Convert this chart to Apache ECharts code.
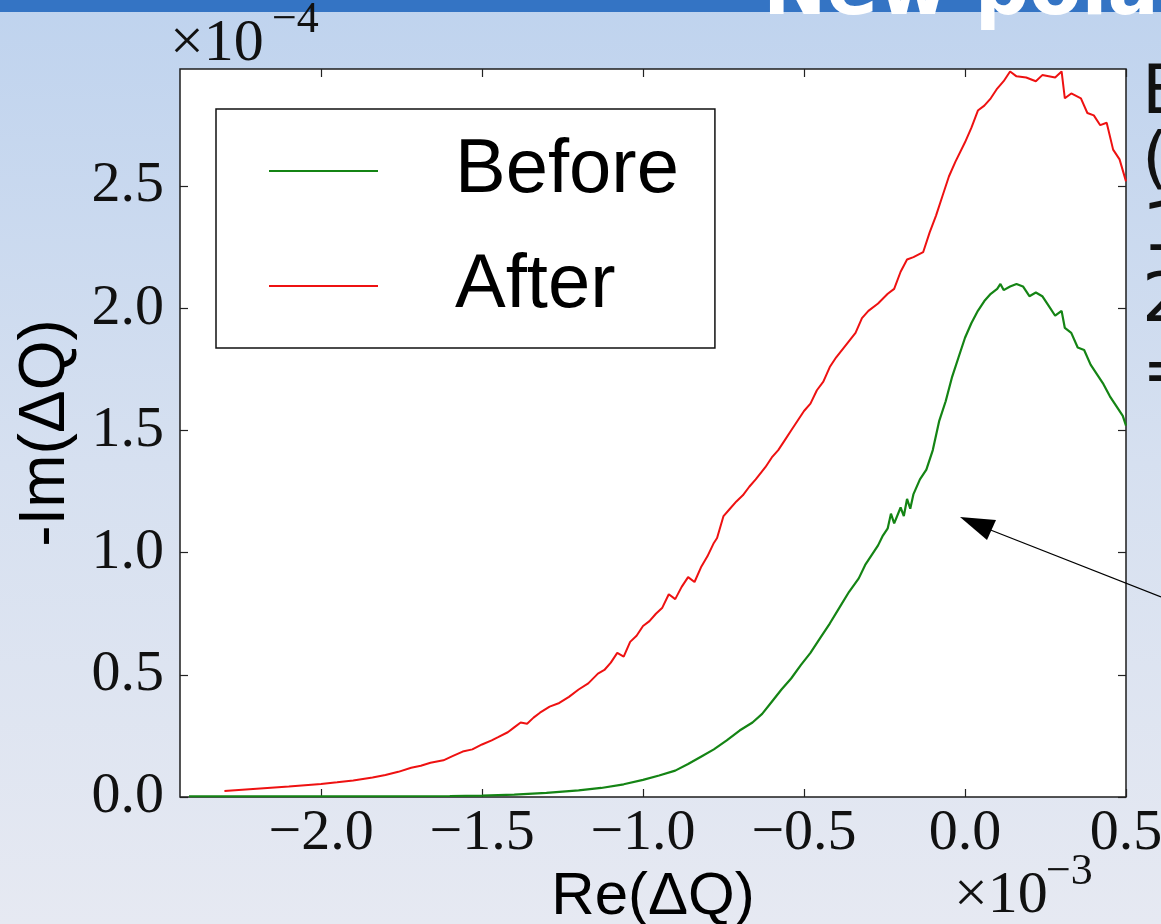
<!DOCTYPE html>
<html>
<head>
<meta charset="utf-8">
<script src="https://cdn.jsdelivr.net/npm/echarts@6.0.0/dist/echarts.min.js"></script>
<style>
html,body{margin:0;padding:0;width:1161px;height:924px;overflow:hidden;}
#chart{width:1161px;height:924px;}
</style>
</head>
<body>
<div id="chart"></div>
<script>
// Re(ΔQ) in units of 1e-3, -Im(ΔQ) in units of 1e-4
const beforeRe = [-2.41,-2.2,-2.0,-1.8,-1.6,-1.5,-1.4,-1.3,-1.2,-1.13,-1.06,-1.0,-0.95,-0.9,-0.86,-0.82,-0.78,-0.74,-0.7,-0.66,-0.63,-0.6,-0.57,-0.54,-0.51,-0.48,-0.45,-0.42,-0.39,-0.36,-0.33,-0.31,-0.29,-0.27,-0.255,-0.24,-0.23,-0.22,-0.2,-0.19,-0.18,-0.17,-0.16,-0.14,-0.12,-0.1,-0.08,-0.06,-0.04,-0.02,0.0,0.02,0.04,0.06,0.08,0.1,0.11,0.12,0.14,0.16,0.18,0.2,0.22,0.24,0.26,0.28,0.3,0.31,0.33,0.35,0.37,0.39,0.41,0.43,0.45,0.47,0.49,0.5];
const beforeIm = [0.003,0.003,0.003,0.003,0.004,0.006,0.010,0.017,0.027,0.037,0.052,0.070,0.088,0.108,0.135,0.165,0.195,0.232,0.272,0.305,0.340,0.390,0.440,0.485,0.540,0.590,0.650,0.710,0.775,0.840,0.895,0.950,0.990,1.030,1.070,1.100,1.160,1.120,1.185,1.150,1.220,1.180,1.240,1.300,1.340,1.420,1.540,1.620,1.720,1.800,1.880,1.940,1.990,2.030,2.060,2.080,2.100,2.075,2.090,2.100,2.090,2.050,2.065,2.050,2.010,1.970,1.990,1.920,1.900,1.840,1.830,1.770,1.730,1.690,1.640,1.600,1.560,1.520];
const afterRe = [-2.30,-2.2,-2.1,-2.0,-1.95,-1.9,-1.84,-1.8,-1.76,-1.72,-1.69,-1.66,-1.62,-1.59,-1.56,-1.53,-1.5,-1.47,-1.45,-1.42,-1.4,-1.38,-1.36,-1.34,-1.32,-1.29,-1.26,-1.23,-1.2,-1.17,-1.14,-1.12,-1.1,-1.08,-1.06,-1.04,-1.02,-1.0,-0.98,-0.96,-0.94,-0.92,-0.9,-0.88,-0.86,-0.84,-0.82,-0.8,-0.78,-0.77,-0.75,-0.73,-0.71,-0.69,-0.67,-0.65,-0.62,-0.6,-0.58,-0.56,-0.54,-0.52,-0.5,-0.48,-0.46,-0.44,-0.42,-0.4,-0.37,-0.34,-0.32,-0.3,-0.27,-0.24,-0.22,-0.2,-0.18,-0.16,-0.13,-0.11,-0.09,-0.07,-0.05,-0.03,0.0,0.02,0.04,0.06,0.08,0.1,0.12,0.14,0.16,0.19,0.22,0.24,0.26,0.28,0.3,0.31,0.33,0.36,0.38,0.4,0.42,0.44,0.46,0.48,0.5];
const afterIm = [0.025,0.034,0.043,0.053,0.060,0.068,0.080,0.090,0.103,0.120,0.128,0.140,0.150,0.168,0.186,0.195,0.215,0.232,0.245,0.265,0.285,0.305,0.300,0.325,0.345,0.370,0.385,0.410,0.440,0.465,0.505,0.520,0.550,0.590,0.575,0.635,0.660,0.700,0.720,0.750,0.775,0.830,0.810,0.860,0.900,0.880,0.940,0.985,1.040,1.060,1.150,1.180,1.210,1.235,1.270,1.300,1.350,1.390,1.420,1.460,1.500,1.540,1.580,1.610,1.665,1.700,1.760,1.800,1.850,1.900,1.960,1.990,2.020,2.060,2.080,2.150,2.200,2.210,2.230,2.310,2.380,2.460,2.540,2.600,2.680,2.740,2.810,2.830,2.860,2.900,2.930,2.970,2.950,2.945,2.930,2.955,2.950,2.945,2.970,2.860,2.880,2.860,2.800,2.790,2.750,2.760,2.650,2.610,2.520];
const seriesNames = ['Before', 'After'];
const xTicks = [-2.0, -1.5, -1.0, -0.5, 0.0, 0.5];
const yTicks = [0.0, 0.5, 1.0, 1.5, 2.0, 2.5];
const xRange = [-2.438, 0.5];
const yRange = [0, 2.98];

const zip = (a, b) => a.map((v, i) => [v, b[i]]);
const fmt = v => (v < 0 ? '\u2212' : '') + Math.abs(v).toFixed(1);

const chart = echarts.init(document.getElementById('chart'), null, {renderer: 'canvas'});
const serif = 'Liberation Serif';
const sans = 'Liberation Sans';

const tickCommon = {inside: true, length: 8, lineStyle: {color: '#222', width: 1.2}};
const noLine = {show: false, onZero: false};

chart.setOption({
  animation: false,
  backgroundColor: new echarts.graphic.LinearGradient(0, 0, 0, 1, [
    {offset: 0, color: '#bfd3ee'},
    {offset: 0.5, color: '#d6e0f0'},
    {offset: 1, color: '#e6e9f2'}
  ]),
  grid: {left: 180, top: 69, width: 946, height: 728, show: true,
         containLabel: false, outerBoundsMode: 'none',
         backgroundColor: '#ffffff', borderColor: '#1e1e1e', borderWidth: 1.5},
  legend: {
    left: 216, top: 109, orient: 'vertical', icon: 'rect',
    itemWidth: 109, itemHeight: 2, itemGap: 35,
    padding: [22, 36, 22, 53],
    backgroundColor: '#ffffff', borderColor: '#111', borderWidth: 1.5, borderRadius: 0,
    textStyle: {fontFamily: sans, fontSize: 76, color: '#000', lineHeight: 80, padding: [0, 0, 0, 72]},
    data: seriesNames
  },
  xAxis: [{
    type: 'value', min: xRange[0], max: xRange[1], position: 'bottom',
    name: 'Re(\u0394Q)', nameLocation: 'middle', nameGap: 46,
    nameTextStyle: {fontFamily: sans, fontSize: 60, color: '#000'},
    axisLine: noLine, splitLine: {show: false},
    axisTick: Object.assign({customValues: xTicks}, tickCommon),
    axisLabel: {customValues: xTicks, formatter: fmt, fontFamily: serif, fontSize: 58, color: '#111', margin: 8}
  }, {
    type: 'value', min: xRange[0], max: xRange[1], position: 'top',
    axisLine: noLine, splitLine: {show: false},
    axisTick: Object.assign({customValues: xTicks}, tickCommon),
    axisLabel: {show: false}
  }],
  yAxis: [{
    type: 'value', min: yRange[0], max: yRange[1], position: 'left',
    name: '-Im(\u0394Q)', nameLocation: 'middle', nameGap: 102, nameRotate: 90,
    nameTextStyle: {fontFamily: sans, fontSize: 64, color: '#000'},
    axisLine: noLine, splitLine: {show: false},
    axisTick: Object.assign({customValues: yTicks}, tickCommon),
    axisLabel: {customValues: yTicks, formatter: fmt, fontFamily: serif, fontSize: 58, color: '#111', margin: 16}
  }, {
    type: 'value', min: yRange[0], max: yRange[1], position: 'right',
    axisLine: noLine, splitLine: {show: false},
    axisTick: Object.assign({customValues: yTicks}, tickCommon),
    axisLabel: {show: false}
  }],
  series: [{
    name: seriesNames[0], type: 'line', data: zip(beforeRe, beforeIm),
    showSymbol: false, symbol: 'none', clip: true,
    itemStyle: {color: '#148414'}, lineStyle: {color: '#148414', width: 2.2}
  }, {
    name: seriesNames[1], type: 'line', data: zip(afterRe, afterIm),
    showSymbol: false, symbol: 'none', clip: true,
    itemStyle: {color: '#ee1111'}, lineStyle: {color: '#ee1111', width: 2}
  }],
  graphic: [
    {type: 'rect', z: 50, shape: {x: 0, y: 0, width: 1161, height: 12}, style: {fill: '#3474c4'}},
    {type: 'text', z: 51, style: {text: 'New polar', x: 763, y: -6, fill: '#ffffff',
      font: 'bold 76px "DejaVu Sans"', textAlign: 'left', textVerticalAlign: 'middle'}},
    {type: 'text', z: 51, style: {text: '\u00d710', x: 170, y: 44, fill: '#111',
      font: '60px "Liberation Serif"', textAlign: 'left', textVerticalAlign: 'middle'}},
    {type: 'text', z: 51, style: {text: '\u22124', x: 272, y: 20, fill: '#111',
      font: '44px "Liberation Serif"', textAlign: 'left', textVerticalAlign: 'middle'}},
    {type: 'text', z: 51, style: {text: '\u00d710', x: 954, y: 896, fill: '#111',
      font: '60px "Liberation Serif"', textAlign: 'left', textVerticalAlign: 'middle'}},
    {type: 'text', z: 51, style: {text: '\u22123', x: 1046, y: 872, fill: '#111',
      font: '44px "Liberation Serif"', textAlign: 'left', textVerticalAlign: 'middle'}},
    {type: 'text', z: 51, style: {text: 'E', x: 1142, y: 95, fill: '#111', font: '68px "DejaVu Sans"', textAlign: 'left', textVerticalAlign: 'middle'}},
    {type: 'text', z: 51, style: {text: '(', x: 1142, y: 163, fill: '#111', font: '68px "DejaVu Sans"', textAlign: 'left', textVerticalAlign: 'middle'}},
    {type: 'text', z: 51, style: {text: '1', x: 1142, y: 232, fill: '#111', font: '68px "DejaVu Sans"', textAlign: 'left', textVerticalAlign: 'middle'}},
    {type: 'text', z: 51, style: {text: '2', x: 1142, y: 303, fill: '#111', font: '68px "DejaVu Sans"', textAlign: 'left', textVerticalAlign: 'middle'}},
    {type: 'text', z: 51, style: {text: '=', x: 1142, y: 375, fill: '#111', font: '68px "DejaVu Sans"', textAlign: 'left', textVerticalAlign: 'middle'}},
    {type: 'line', z: 60, shape: {x1: 1161, y1: 597, x2: 988, y2: 529}, style: {stroke: '#000', lineWidth: 1.3}},
    {type: 'polygon', z: 60, shape: {points: [[960, 517], [996, 520], [987, 540]]}, style: {fill: '#000'}}
  ]
});
</script>
</body>
</html>
